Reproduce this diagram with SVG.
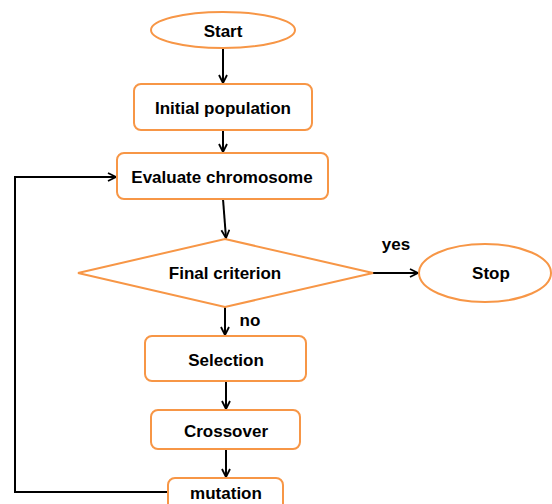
<svg xmlns="http://www.w3.org/2000/svg" width="552" height="504" viewBox="0 0 552 504">
<style>
.node{fill:#fff;stroke:#F79646;stroke-width:2}
.lbl{font-family:"Liberation Sans",Arial,sans-serif;font-weight:bold;font-size:17px;fill:#000;text-anchor:middle}
.edge{fill:none;stroke:#000;stroke-width:2}
</style>
<defs>
<marker id="ah" viewBox="0 0 10 10" refX="9" refY="5" markerWidth="10" markerHeight="10" markerUnits="userSpaceOnUse" orient="auto">
<path d="M1,1 L9,5 L1,9" fill="none" stroke="#000" stroke-width="1.8"/>
</marker>
</defs>
<rect width="552" height="504" fill="#fff"/>
<g id="connectors">
<line class="edge" x1="223" y1="49" x2="223" y2="83" marker-end="url(#ah)"/>
<line class="edge" x1="223" y1="130" x2="223" y2="152" marker-end="url(#ah)"/>
<line class="edge" x1="223" y1="199" x2="226" y2="238" marker-end="url(#ah)"/>
<line class="edge" x1="373" y1="273" x2="418" y2="273" marker-end="url(#ah)"/>
<line class="edge" x1="225" y1="307" x2="225" y2="335" marker-end="url(#ah)"/>
<line class="edge" x1="226" y1="381" x2="226" y2="409" marker-end="url(#ah)"/>
<line class="edge" x1="226" y1="449" x2="226" y2="477" marker-end="url(#ah)"/>
<polyline class="edge" points="168,492 15,492 15,177 116,177" marker-end="url(#ah)"/>
<text class="lbl" x="396" y="250">yes</text>
<text class="lbl" x="250" y="326">no</text>
</g>
<g id="start">
<ellipse class="node" cx="223" cy="30" rx="72" ry="18"/>
<text class="lbl" x="223" y="37">Start</text>
</g>
<g id="init">
<rect class="node" x="134" y="84" width="178" height="46" rx="7"/>
<text class="lbl" x="223" y="114">Initial population</text>
</g>
<g id="evaluate">
<rect class="node" x="117" y="153" width="211" height="46" rx="7"/>
<text class="lbl" x="222" y="183">Evaluate chromosome</text>
</g>
<g id="criterion">
<polygon class="node" points="225,239 373,273 225,307 78,273"/>
<text class="lbl" x="225" y="279">Final criterion</text>
</g>
<g id="stop">
<ellipse class="node" cx="485" cy="273" rx="66" ry="29"/>
<text class="lbl" x="491" y="279">Stop</text>
</g>
<g id="selection">
<rect class="node" x="145" y="336" width="161" height="45" rx="7"/>
<text class="lbl" x="226" y="366">Selection</text>
</g>
<g id="crossover">
<rect class="node" x="151" y="410" width="149" height="39" rx="7"/>
<text class="lbl" x="226" y="437">Crossover</text>
</g>
<g id="mutation">
<rect class="node" x="168" y="478" width="115" height="40" rx="7"/>
<text class="lbl" x="226" y="499">mutation</text>
</g>
</svg>
